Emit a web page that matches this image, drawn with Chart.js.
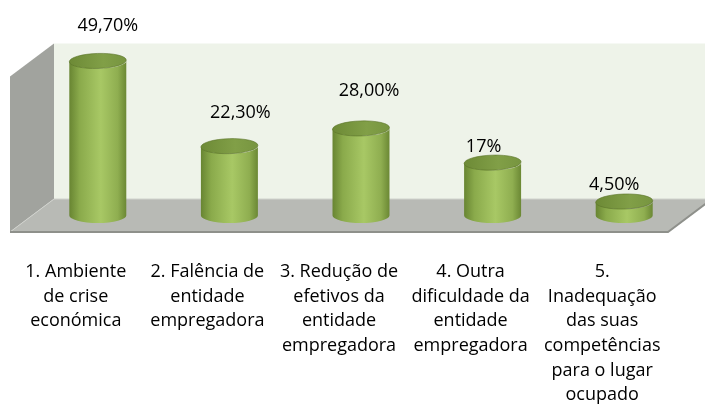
<!DOCTYPE html>
<html lang="pt">
<head>
<meta charset="UTF-8">
<title>Motivos</title>
<script src="https://cdn.jsdelivr.net/npm/chart.js"></script>
<style>
    html, body { margin: 0; padding: 0; background: #fff; }
    #wrap { width: 705px; height: 410px; }
</style>
</head>
<body>
<div id="wrap"><canvas id="chart" width="705" height="410"></canvas></div>
<script>
    const categories = [
        ['1. Ambiente', 'de crise', 'económica'],
        ['2. Falência de', 'entidade', 'empregadora'],
        ['3. Redução de', 'efetivos da', 'entidade', 'empregadora'],
        ['4. Outra', 'dificuldade da', 'entidade', 'empregadora'],
        ['5.', 'Inadequação', 'das suas', 'competências', 'para o lugar', 'ocupado']
    ];
    const values = [49.7, 22.3, 28.0, 17, 4.5];
    const valueLabels = ['49,70%', '22,30%', '28,00%', '17%', '4,50%'];
    const axisMin = 0;
    const axisMax = 50;

    // half of the 3D depth, bars stand in the middle of the floor
    const DX = 22, DY = 16.5;
    const FONT = '18px "Open Sans"';

    function poly(ctx, pts, fill) {
        ctx.beginPath();
        ctx.moveTo(pts[0][0], pts[0][1]);
        for (let i = 1; i < pts.length; i++) ctx.lineTo(pts[i][0], pts[i][1]);
        ctx.closePath();
        ctx.fillStyle = fill;
        ctx.fill();
    }

    function cylinder(ctx, cx, top, base, w) {
        const rx = w / 2, ry = 7.5;
        const g = ctx.createLinearGradient(cx - rx, 0, cx + rx, 0);
        g.addColorStop(0, '#688532');
        g.addColorStop(0.18, '#8aaa4b');
        g.addColorStop(0.55, '#a8c865');
        g.addColorStop(0.85, '#8fae50');
        g.addColorStop(1, '#6b8834');
        ctx.beginPath();
        ctx.moveTo(cx - rx, top);
        ctx.lineTo(cx - rx, base);
        ctx.ellipse(cx, base, rx, ry, 0, Math.PI, 0, true);
        ctx.lineTo(cx + rx, top);
        ctx.ellipse(cx, top, rx, ry, 0, 0, Math.PI, false);
        ctx.closePath();
        ctx.fillStyle = g;
        ctx.fill();

        const t = ctx.createLinearGradient(cx - rx, 0, cx + rx, 0);
        t.addColorStop(0, '#6d8a36');
        t.addColorStop(0.6, '#819f47');
        t.addColorStop(1, '#779540');
        ctx.beginPath();
        ctx.ellipse(cx, top, rx, ry, -0.03, 0, Math.PI * 2);
        ctx.fillStyle = t;
        ctx.fill();
        ctx.strokeStyle = 'rgba(90,115,40,0.6)';
        ctx.lineWidth = 1;
        ctx.stroke();
    }

    const scene3d = {
        id: 'scene3d',
        beforeDatasetsDraw(chart) {
            const ctx = chart.ctx, a = chart.chartArea;
            const fl = a.left - DX, fr = a.right - DX, fy = a.bottom + DY;
            const bl = a.left + DX, br = a.right + DX, by = a.bottom - DY, bt = a.top - DY;
            ctx.save();
            ctx.fillStyle = '#eef3e9';
            ctx.fillRect(bl, bt, br - bl, by - bt);
            poly(ctx, [[fl, bt + 2 * DY], [bl, bt], [bl, by], [fl, fy]], '#a1a39e');
            poly(ctx, [[fl, fy], [bl, by], [br, by], [fr, fy]], '#b8bab5');
            ctx.strokeStyle = '#d0d2cd';
            ctx.lineWidth = 1;
            ctx.beginPath();
            ctx.moveTo(bl, by); ctx.lineTo(br, by);
            ctx.moveTo(fl, fy); ctx.lineTo(bl, by);
            ctx.stroke();
            ctx.strokeStyle = '#8e908b';
            ctx.lineWidth = 2;
            ctx.beginPath();
            ctx.moveTo(fl, fy); ctx.lineTo(fr, fy); ctx.lineTo(br, by);
            ctx.stroke();
            ctx.restore();
        },
        afterDatasetsDraw(chart, args, opts) {
            const ctx = chart.ctx;
            const meta = chart.getDatasetMeta(0);
            ctx.save();
            meta.data.forEach(el => {
                const p = el.getProps(['x', 'y', 'base', 'width'], true);
                cylinder(ctx, p.x, p.y, p.base, p.width);
            });
            ctx.fillStyle = '#000';
            ctx.font = FONT;
            ctx.textAlign = 'center';
            ctx.textBaseline = 'middle';
            meta.data.forEach((el, i) => {
                const n = opts.nudge[i];
                ctx.fillText(valueLabels[i], el.x + n[0], el.y + n[1]);
            });
            const xs = chart.scales.x;
            categories.forEach((lines, i) => {
                const x = xs.getPixelForValue(i) - DX;
                lines.forEach((s, k) => ctx.fillText(s, x, opts.labelTop + k * 24.6));
            });
            ctx.restore();
        }
    };

    new Chart(document.getElementById('chart'), {
        type: 'bar',
        data: {
            labels: categories,
            datasets: [{
                data: values,
                backgroundColor: 'rgba(0,0,0,0)',
                borderWidth: 0,
                barPercentage: 0.433,
                categoryPercentage: 1
            }]
        },
        options: {
            responsive: false,
            animation: false,
            devicePixelRatio: 1,
            layout: { padding: { left: 32, right: 15, top: 60, bottom: 194.5 } },
            scales: {
                x: { display: false },
                y: { display: false, min: axisMin, max: axisMax }
            },
            plugins: {
                legend: { display: false },
                tooltip: { enabled: false },
                scene3d: {
                    nudge: [[10, -35], [11, -33], [8, -38], [-9, -16], [-10, -17]],
                    labelTop: 272
                }
            }
        },
        plugins: [scene3d]
    });
</script>
</body>
</html>
